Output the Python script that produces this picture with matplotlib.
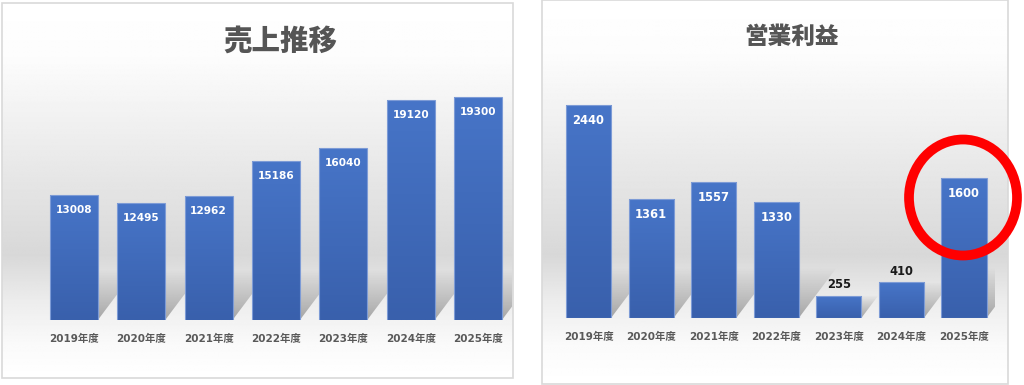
import numpy as np
import matplotlib
matplotlib.use("Agg")
import matplotlib.pyplot as plt
from matplotlib.patches import Rectangle, Polygon, Ellipse
from matplotlib.colors import to_rgb

plt.rcParams['font.family'] = ['DejaVu Sans', 'Noto Sans CJK JP']

# データ
years = ["2019年度", "2020年度", "2021年度", "2022年度", "2023年度", "2024年度", "2025年度"]
sales = [13008, 12495, 12962, 15186, 16040, 19120, 19300]
profit = [2440, 1361, 1557, 1330, 255, 410, 1600]

W, H = 1024, 385
fig = plt.figure(figsize=(W / 100, H / 100), dpi=100)

# 背景 (ピクセル座標)
bg = fig.add_axes([0, 0, 1, 1], zorder=0)
bg.set_xlim(0, W)
bg.set_ylim(H, 0)
bg.axis("off")


def panel_bg(x0, x1, y0, y1):
    ys = np.linspace(y0, y1, 300)
    stops_y = [y0, y0 + 55, 255, 300, 345, y1]
    stops_c = [255, 252, 216, 236, 250, 255]
    g = np.interp(ys, stops_y, stops_c) / 255.0
    img = np.repeat(g[:, None], 2, axis=1)
    bg.imshow(img, cmap="gray", vmin=0, vmax=1, extent=[x0, x1, y1, y0],
              aspect="auto", interpolation="bilinear", zorder=0)
    bg.add_patch(Rectangle((x0, y0), x1 - x0, y1 - y0, fill=False,
                           edgecolor="#d9d9d9", linewidth=1.2, zorder=1))


panel_bg(2, 513, 3, 378)
panel_bg(542, 1008, 0, 384)

top_c = np.array(to_rgb("#4775c8"))
bot_c = np.array(to_rgb("#3960ac"))


def draw_bars(ax, values, ylim, width, label_size, title, title_size, title_xy):
    ax.set_xlim(-0.5, len(values) - 0.5)
    ax.set_ylim(*ylim)
    ax.patch.set_alpha(0)
    for s in ax.spines.values():
        s.set_visible(False)
    ax.set_yticks([])
    ax.set_xticks(range(len(values)))
    ax.set_xticklabels(years, fontsize=7.5, fontweight="bold", color="#595959")
    ax.tick_params(axis="x", length=0, pad=10)

    bb = ax.get_position()
    px_x = bb.width * W / (len(values))
    px_y = bb.height * H / (ylim[1] - ylim[0])
    base = ylim[0]

    # 影
    sh_img = np.zeros((100, 2, 4))
    sh_img[..., :3] = 0.45
    sh_img[..., 3] = 0.6 * np.linspace(0, 1, 100)[:, None] ** 0.9
    for i, v in enumerate(values):
        xl, xr = i - width / 2, i + width / 2
        hpx = min(50, (v - base) * px_y)
        sx = hpx * 0.75 / px_x
        sh = hpx / px_y
        poly = Polygon([(xl, base), (xr, base), (xr + sx, base + sh), (xl + sx, base + sh)],
                       closed=True, facecolor="none", edgecolor="none")
        ax.add_patch(poly)
        im = ax.imshow(sh_img, extent=[xl, xr + sx, base, base + sh], origin="upper",
                       aspect="auto", interpolation="bilinear", zorder=1)
        im.set_clip_path(poly)

    # 棒
    grad = np.linspace(0, 1, 100)[:, None, None]
    bar_img = top_c * (1 - grad) + bot_c * grad
    bar_img = np.repeat(bar_img, 2, axis=1)
    bars = ax.bar(range(len(values)), values, width=width, bottom=0,
                  color="none", edgecolor="#7d9bd6", linewidth=0.8, zorder=3)
    for b, v in zip(bars, values):
        x = b.get_x()
        im = ax.imshow(bar_img, extent=[x, x + width, base, v], origin="upper",
                       aspect="auto", interpolation="bilinear", zorder=2)
        im.set_clip_path(b)

    # 値ラベル
    span = ylim[1] - ylim[0]
    for i, v in enumerate(values):
        if v - base > 0.2 * span:
            ax.annotate(str(v), (i, v), xytext=(0, -11), textcoords="offset points",
                        ha="center", va="center", fontsize=label_size,
                        fontweight="bold", color="white", zorder=4)
        else:
            ax.annotate(str(v), (i, v), xytext=(0, 8), textcoords="offset points",
                        ha="center", va="center", fontsize=label_size,
                        fontweight="bold", color="#1a1a1a", zorder=4)

    bg.text(title_xy[0], title_xy[1], title, ha="center", va="center",
            fontsize=title_size, fontweight="heavy", color="#555555",
            family=["Noto Sans CJK JP", "DejaVu Sans"], zorder=5)


# 左: 売上推移
ax1 = fig.add_axes([40.3 / W, 1 - 320 / H, (511.7 - 40.3) / W, (320 - 86) / H], zorder=2)
draw_bars(ax1, sales, (5000, 20000), 0.71, 7.6, "売上推移", 20.5, (280, 41))

# 右: 営業利益
ax2 = fig.add_axes([557.2 / W, 1 - 318 / H, (995.3 - 557.2) / W, (318 - 56) / H], zorder=2)
draw_bars(ax2, profit, (0, 3000), 0.72, 8.3, "営業利益", 17, (791, 37))

# 赤丸
ov = fig.add_axes([0, 0, 1, 1], zorder=10)
ov.set_xlim(0, W)
ov.set_ylim(H, 0)
ov.axis("off")
ov.patch.set_alpha(0)
ov.add_patch(Ellipse((963, 197.5), 108, 116, fill=False, edgecolor="#ff0000", linewidth=7))

fig.savefig("out.png", dpi=100)
